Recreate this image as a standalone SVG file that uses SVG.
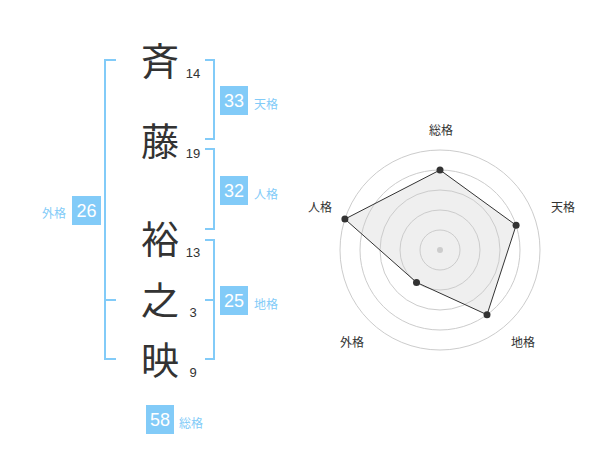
<svg xmlns="http://www.w3.org/2000/svg" width="600" height="470" viewBox="0 0 600 470">
<style>
.kanji{font-family:"Noto Sans CJK JP","Noto Sans CJK SC",sans-serif;font-size:38px;fill:#333;text-anchor:middle}
.strokes{font-family:"Liberation Sans",Arial,sans-serif;font-size:13px;fill:#333;text-anchor:middle}
.br{fill:none;stroke:#82cbf8;stroke-width:2}
.box{fill:#82cbf8}
.bn{font-family:"Liberation Sans",Arial,sans-serif;font-size:18px;fill:#fff;text-anchor:middle}
.bl{font-family:"Noto Sans CJK JP","Noto Sans CJK SC",sans-serif;font-size:12px;fill:#82cbf8}
.ring{fill:none;stroke:#ccc;stroke-width:1}
.axl{font-family:"Noto Sans CJK JP","Noto Sans CJK SC",sans-serif;font-size:12px;fill:#333;text-anchor:middle}
.pt{fill:#333}
</style>
<rect width="600" height="470" fill="#fff"/>
<g id="name">
<g id="c1"><text class="kanji" x="160" y="75">斉</text><text class="strokes" x="193" y="78">14</text></g>
<g id="c2"><text class="kanji" x="160" y="155">藤</text><text class="strokes" x="193" y="158">19</text></g>
<g id="c3"><text class="kanji" x="160" y="253">裕</text><text class="strokes" x="193" y="257">13</text></g>
<g id="c4"><text class="kanji" x="160" y="314">之</text><text class="strokes" x="193" y="317">3</text></g>
<g id="c5"><text class="kanji" x="160" y="374">映</text><text class="strokes" x="193" y="377">9</text></g>
</g>
<g id="connectors">
<path class="br" d="M116,60 H105 V359 H116 M105,300 H116"/>
<path class="br" d="M205,60 H214 V139 H205"/>
<path class="br" d="M205,149 H214 V229 H205"/>
<path class="br" d="M205,240 H214 V359 H205 M205,300 H214"/>
</g>
<g id="tenkaku"><rect class="box" x="220" y="86" width="28" height="29"/><text class="bn" x="234" y="107">33</text><text class="bl" x="254" y="109">天格</text></g>
<g id="jinkaku"><rect class="box" x="220" y="176" width="28" height="29"/><text class="bn" x="234" y="197">32</text><text class="bl" x="254" y="199">人格</text></g>
<g id="chikaku"><rect class="box" x="220" y="286" width="28" height="29"/><text class="bn" x="234" y="307">25</text><text class="bl" x="254" y="309">地格</text></g>
<g id="gaikaku"><rect class="box" x="72" y="196" width="29" height="29"/><text class="bn" x="86.5" y="217">26</text><text class="bl" x="42" y="218">外格</text></g>
<g id="soukaku"><rect class="box" x="146" y="405" width="28" height="29"/><text class="bn" x="160" y="426">58</text><text class="bl" x="179" y="428">総格</text></g>
<g id="radar">
<polygon points="440,170 516.1,225.3 487,314.7 416.5,282.4 344.9,219.1" fill="#efefef"/>
<circle class="ring" cx="440" cy="250" r="20"/>
<circle class="ring" cx="440" cy="250" r="40"/>
<circle class="ring" cx="440" cy="250" r="60"/>
<circle class="ring" cx="440" cy="250" r="80"/>
<circle class="ring" cx="440" cy="250" r="100"/>
<circle cx="440" cy="250" r="3" fill="#ccc"/>
<polygon points="440,170 516.1,225.3 487,314.7 416.5,282.4 344.9,219.1" fill="none" stroke="#333" stroke-width="1"/>
<circle class="pt" cx="440" cy="170" r="3.5"/>
<circle class="pt" cx="516.1" cy="225.3" r="3.5"/>
<circle class="pt" cx="487" cy="314.7" r="3.5"/>
<circle class="pt" cx="416.5" cy="282.4" r="3.5"/>
<circle class="pt" cx="344.9" cy="219.1" r="3.5"/>
<text class="axl" x="441" y="135">総格</text>
<text class="axl" x="563" y="212">天格</text>
<text class="axl" x="523" y="347">地格</text>
<text class="axl" x="352" y="347">外格</text>
<text class="axl" x="320" y="212">人格</text>
</g>
</svg>
